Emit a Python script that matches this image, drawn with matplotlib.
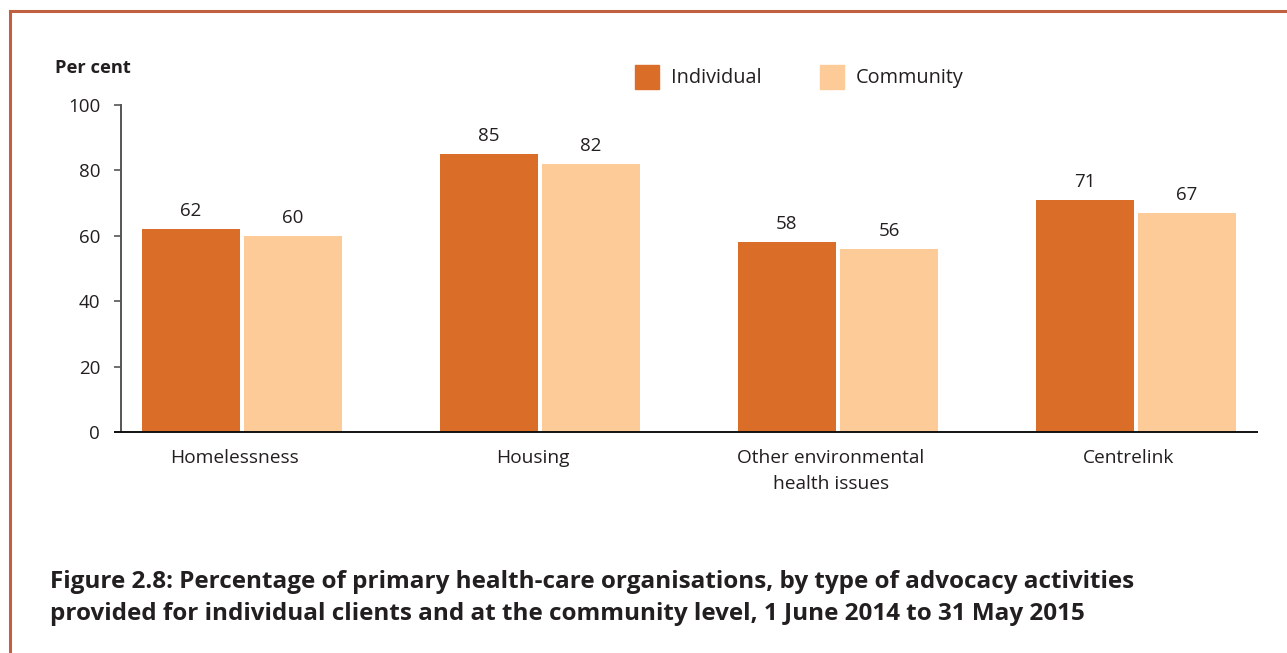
import matplotlib
matplotlib.use("Agg")
import matplotlib.pyplot as plt
from matplotlib.patches import Rectangle
from matplotlib.lines import Line2D
from matplotlib.transforms import ScaledTranslation
import numpy as np

plt.rcParams['font.family'] = ['Open Sans', 'DejaVu Sans']

categories = ["Homelessness", "Housing", "Other environmental\nhealth issues", "Centrelink"]
series_names = ["Individual", "Community"]
individual = [62, 85, 58, 71]
community = [60, 82, 56, 67]
yticks = [0, 20, 40, 60, 80, 100]

col_ind = "#DA6D28"
col_com = "#FDCB98"
text_col = "#231F20"
border_col = "#C0603F"

W, H = 1287, 653
fig = plt.figure(figsize=(W / 100, H / 100), dpi=100)

# frame lines along the top and left edge
fig.add_artist(Line2D([10 / W, 1.0], [1 - 10.5 / H, 1 - 10.5 / H], color=border_col, lw=2.2))
fig.add_artist(Line2D([10 / W, 10 / W], [0, 1 - 10.5 / H], color=border_col, lw=2.2))

ax = fig.add_axes([121 / W, 221 / H, (1257 - 121) / W, (432 - 105) / H])

x = np.arange(len(categories))
bw = 0.329
gap = 0.0067
b1 = ax.bar(x - bw / 2 - gap, individual, bw, color=col_ind, label=series_names[0])
b2 = ax.bar(x + bw / 2 + gap, community, bw, color=col_com, label=series_names[1])

for bars, vals in ((b1, individual), (b2, community)):
    for r, v in zip(bars, vals):
        ax.annotate(f"{v}", (r.get_x() + r.get_width() / 2, v), xytext=(0, 6.5),
                    textcoords="offset points", ha="center", va="bottom",
                    fontsize=13.5, color=text_col)

ax.set_xlim(-0.406, 3.406)
ax.set_ylim(0, 100)
ax.set_yticks(yticks)
ax.set_yticklabels([str(t) for t in yticks], fontsize=13.5, color=text_col)
ax.set_xticks(x)
ax.set_xticklabels(categories, fontsize=13.8, color=text_col, linespacing=1.6)
ax.tick_params(axis='x', length=0, pad=12)
ax.tick_params(axis='y', length=5, width=1.2, color="#555555", pad=10)

# category names sit slightly left of the group centres
shift = ScaledTranslation(-7 / 100, 0, fig.dpi_scale_trans)
for lbl in ax.get_xticklabels():
    lbl.set_transform(lbl.get_transform() + shift)

for s in ("top", "right"):
    ax.spines[s].set_visible(False)
ax.spines["left"].set_color("#555555")
ax.spines["left"].set_linewidth(1.4)
ax.spines["bottom"].set_color("#111111")
ax.spines["bottom"].set_linewidth(1.4)
ax.spines["bottom"].set_bounds(-0.406 - 6 / 298, 3.406)
ax.spines["bottom"].set_clip_on(False)

fig.text(55 / W, 1 - 68 / H, "Per cent", fontsize=13.2, fontweight="bold",
         color=text_col, ha="left", va="center")

# legend
for (x0, tx, c, name) in ((635, 671, col_ind, series_names[0]), (820, 856, col_com, series_names[1])):
    fig.add_artist(Rectangle((x0 / W, 1 - 89 / H), 24 / W, 24 / H, color=c,
                             transform=fig.transFigure))
    fig.text(tx / W, 1 - 78 / H, name, fontsize=14.3, color=text_col, ha="left", va="center")

fig.text(50 / W, 1 - 598 / H,
         "Figure 2.8: Percentage of primary health-care organisations, by type of advocacy activities\n"
         "provided for individual clients and at the community level, 1 June 2014 to 31 May 2015",
         fontsize=17.5, fontweight="bold", color=text_col, ha="left", va="center",
         linespacing=1.5)

fig.savefig("out.png", dpi=100)
